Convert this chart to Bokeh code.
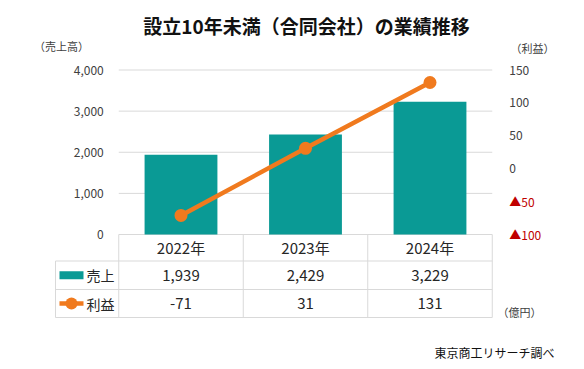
from bokeh.plotting import figure
from bokeh.models import Range1d, LinearAxis, FixedTicker, NumeralTickFormatter
from bokeh.core.properties import value
from bokeh.embed import file_html
from bokeh.resources import INLINE

# ---------------- data ----------------
TITLE = "設立10年未満（合同会社）の業績推移"
YEARS = ["2022年", "2023年", "2024年"]
SALES = [1939, 2429, 3229]          # 売上（億円）
PROFIT = [-71, 31, 131]             # 利益（億円）
SALES_TICKS = [0, 1000, 2000, 3000, 4000]
PROFIT_TICKS = [0, 50, 100, 150]
PROFIT_NEG_TICKS = [-100, -50]
PROFIT_NEG_LABELS = {-100: "▲100", -50: "▲50"}
SALES_NAME = "売上"
PROFIT_NAME = "利益"
LEFT_UNIT = "（売上高）"
RIGHT_UNIT = "（利益）"
TABLE_UNIT = "（億円）"
SOURCE = "東京商工リサーチ調べ"

# ---------------- style / layout ----------------
FONT_NAME = "Noto Sans CJK JP"
FONT = value(FONT_NAME)
TEAL = "#0a9a95"
ORANGE = "#f07a1e"
RED = "#c00000"
GRID = "#d9d9d9"
TXT = "#262626"

W, H, M = 584, 369, 0
X0_PX, DX_PX = 180.5, 124.5          # page px of first category centre, spacing
Y_BOTTOM_PX, Y_TOP_PX = 234.0, 69.5  # page px of axis bottom / top
ROW_LINES = [234.0, 260.5, 289.0, 317.0]
LEG_LEFT_PX = 55.0

xs = list(range(len(YEARS)))
x_start = (M - X0_PX) / DX_PX
x_end = (M + W - X0_PX) / DX_PX
k = (Y_BOTTOM_PX - Y_TOP_PX) / (SALES_TICKS[-1] - SALES_TICKS[0])
y_start = SALES_TICKS[0] - (M + H - Y_BOTTOM_PX) / k
y_end = SALES_TICKS[0] + (Y_BOTTOM_PX - M) / k
p_lo, p_hi = PROFIT_NEG_TICKS[0], PROFIT_TICKS[-1]
kp = (Y_BOTTOM_PX - Y_TOP_PX) / (p_hi - p_lo)
p_start = p_lo - (M + H - Y_BOTTOM_PX) / kp
p_end = p_lo + (Y_BOTTOM_PX - M) / kp

p = figure(width=W, height=H, output_backend="svg", toolbar_location=None,
           x_range=Range1d(x_start, x_end), y_range=Range1d(y_start, y_end),
           x_axis_location=None, y_axis_location=None, min_border=0,
           outline_line_color=None, background_fill_color="white",
           border_fill_color="white")
p.grid.visible = False
p.extra_y_ranges = {"profit": Range1d(p_start, p_end), "px": Range1d(M + H, M)}
p.extra_x_ranges = {"px": Range1d(M, M + W)}

left_edge = -0.5
right_edge = len(YEARS) - 0.5
leg_left = (LEG_LEFT_PX - X0_PX) / DX_PX

# axes
axkw = dict(axis_line_color=None, major_tick_line_color=None,
            minor_tick_line_color=None, major_label_text_font=FONT_NAME,
            major_label_text_font_size="12px")
ax_l = LinearAxis(ticker=FixedTicker(ticks=SALES_TICKS), fixed_location=left_edge,
                  formatter=NumeralTickFormatter(format="0,0"),
                  major_label_standoff=9, major_label_text_color="#404040", **axkw)
p.add_layout(ax_l, "left")
ax_r = LinearAxis(y_range_name="profit", ticker=FixedTicker(ticks=PROFIT_TICKS),
                  fixed_location=right_edge, major_label_standoff=11,
                  major_label_text_color="#404040", **axkw)
p.add_layout(ax_r, "right")
ax_rn = LinearAxis(y_range_name="profit", ticker=FixedTicker(ticks=PROFIT_NEG_TICKS),
                   fixed_location=right_edge, major_label_overrides=PROFIT_NEG_LABELS,
                   major_label_standoff=11, major_label_text_color=RED, **axkw)
p.add_layout(ax_rn, "right")

# gridlines
p.segment(x0=left_edge, x1=right_edge, y0=SALES_TICKS, y1=SALES_TICKS,
          line_color=GRID, line_width=1)

# bars and line
p.vbar(x=xs, top=SALES, bottom=0, width=0.585, fill_color=TEAL, line_color=None)
p.line(xs, PROFIT, y_range_name="profit", line_color=ORANGE, line_width=4.5)
p.scatter(xs, PROFIT, y_range_name="profit", size=13, fill_color=ORANGE,
          line_color=None)

# table grid
edges = [i - 0.5 for i in range(len(YEARS) + 1)]
p.segment(x0=edges, x1=edges, y0=ROW_LINES[0], y1=ROW_LINES[-1],
          y_range_name="px", line_color=GRID, line_width=1)
p.segment(x0=[leg_left], x1=[leg_left], y0=ROW_LINES[1], y1=ROW_LINES[-1],
          y_range_name="px", line_color=GRID, line_width=1)
p.segment(x0=leg_left, x1=right_edge, y0=ROW_LINES[1:], y1=ROW_LINES[1:],
          y_range_name="px", line_color=GRID, line_width=1)

row_c = [(ROW_LINES[i] + ROW_LINES[i + 1]) / 2 for i in range(3)]
tkw = dict(y_range_name="px", text_align="center", text_baseline="middle",
           text_font=FONT, text_font_size="15px", text_color=TXT)
p.text(x=xs, y=row_c[0], text=YEARS, **tkw)
p.text(x=xs, y=row_c[1], text=[f"{v:,}" for v in SALES], **tkw)
p.text(x=xs, y=row_c[2], text=[str(v) for v in PROFIT], **tkw)

# legend cells
p.rect(x=[71], y=[row_c[1]], width=24, height=8, x_range_name="px",
       y_range_name="px", fill_color=TEAL, line_color=None)
p.line([59, 83], [row_c[2], row_c[2]], x_range_name="px", y_range_name="px",
       line_color=ORANGE, line_width=4.5)
p.scatter([71], [row_c[2]], x_range_name="px", y_range_name="px", size=12,
          fill_color=ORANGE, line_color=None)
lkw = dict(x_range_name="px", y_range_name="px", text_align="left",
           text_baseline="middle", text_font=FONT, text_font_size="14px",
           text_color=TXT)
p.text(x=[86], y=[row_c[1]], text=[SALES_NAME], **lkw)
p.text(x=[86], y=[row_c[2]], text=[PROFIT_NAME], **lkw)

# titles and notes
nkw = dict(x_range_name="px", y_range_name="px", text_align="center",
           text_baseline="middle", text_font=FONT)
p.text(x=[306], y=[25], text=[TITLE], text_font_style="bold",
       text_font_size="19px", text_color="#111111", **nkw)
p.text(x=[61], y=[45], text=[LEFT_UNIT], text_font_size="11px",
       text_color="#404040", **nkw)
p.text(x=[532], y=[47], text=[RIGHT_UNIT], text_font_size="11px",
       text_color="#404040", **nkw)
p.text(x=[519], y=[311], text=[TABLE_UNIT], text_font_size="11px",
       text_color="#404040", **nkw)
p.text(x=[494], y=[352], text=[SOURCE], text_font_size="12px",
       text_color="#111111", **nkw)

open("out.html", "w").write(file_html(p, INLINE))
